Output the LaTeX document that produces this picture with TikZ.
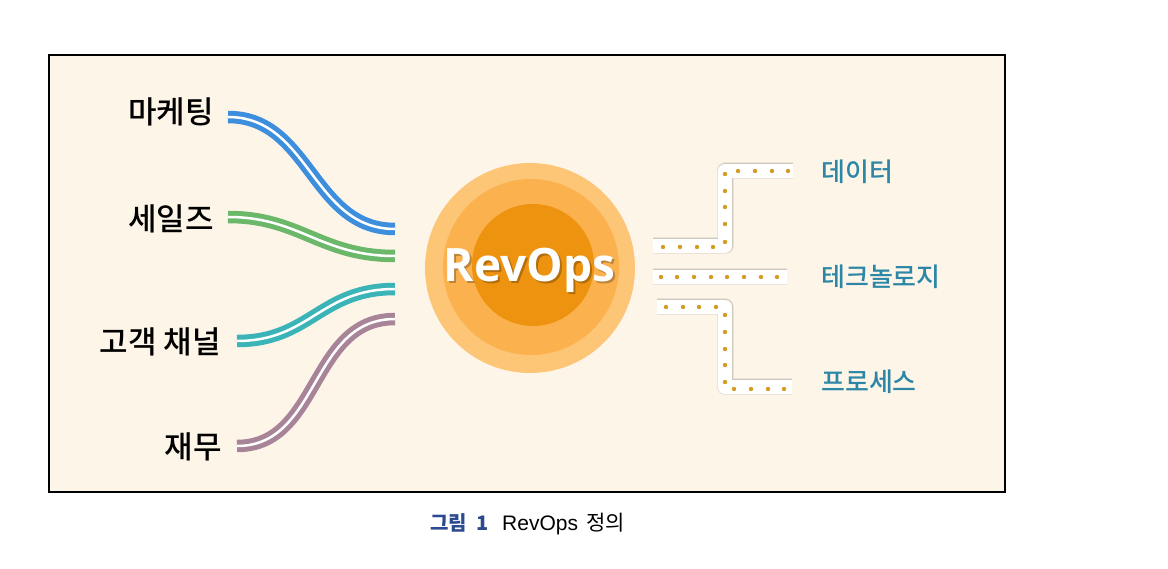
\documentclass[tikz,border=0pt]{standalone}
\usepackage{fontspec}
\setmainfont{Liberation Sans}
\newfontfamily\kr{Noto Sans CJK KR}
\newfontfamily\krm{Noto Sans CJK KR Medium}
\newfontfamily\revfont{Open Sans}
\definecolor{bg}{HTML}{FDF5E8}
\definecolor{c1}{HTML}{FDC576}
\definecolor{c2}{HTML}{FBB24E}
\definecolor{c3}{HTML}{EE930F}
\definecolor{lblue}{HTML}{3E8EDE}
\definecolor{lgreen}{HTML}{6CB86A}
\definecolor{lteal}{HTML}{3BB4B8}
\definecolor{lmauve}{HTML}{A88498}
\definecolor{rtext}{HTML}{2C86A6}
\definecolor{gold}{HTML}{D49C22}
\definecolor{capblue}{HTML}{2B4A8F}
\tikzset{
  llabel/.style={font=\krm\fontsize{31}{34}\selectfont, anchor=east, inner sep=0},
  rlabel/.style={font=\krm\fontsize{26}{30}\selectfont, text=rtext, anchor=west, inner sep=0},
  wire/.style={line width=5pt, double=white, double distance=2.5pt},
  barglow/.style={line width=17pt, black, opacity=0.07, line join=round},
  barshadow/.style={line width=15pt, black, opacity=0.12, line join=round},
  bar/.style={line width=14pt, white, line join=round},
  dot/.style={circle, fill=gold, inner sep=0, minimum size=4.4pt}
}
\begin{document}
\begin{tikzpicture}[x=1pt,y=-1pt]
\useasboundingbox (0,0) rectangle (1168,569);
\fill[white] (0,0) rectangle (1168,569);
\draw[line width=2pt, fill=bg] (49,55) rectangle (1005,492);

% circles
\node[circle, fill=c1, minimum size=210pt, inner sep=0] (outer) at (530,268) {};
\node[circle, fill=c2, minimum size=176pt, inner sep=0] (mid) at (531,267) {};
\node[circle, fill=c3, minimum size=122pt, inner sep=0] (inner) at (533,265) {};
\node[font=\revfont\bfseries\fontsize{46}{50}\selectfont, text=black, opacity=0.25] at (531.5,272.5) {RevOps};
\node[font=\revfont\bfseries\fontsize{46}{50}\selectfont, text=white] (rev) at (529.5,270.5) {RevOps};

% left labels
\node[llabel] (mkt) at (214,112) {마케팅};
\node[llabel] (sales) at (214,219) {세일즈};
\node[llabel] (chan) at (221,342) {고객 채널};
\node[llabel] (fin) at (222,447) {재무};

\coordinate (m0) at (228,117);  \coordinate (m1) at (395,229);
\coordinate (s0) at (228,217);  \coordinate (s1) at (395,256);
\coordinate (t0) at (237,341);  \coordinate (t1) at (395,289);
\coordinate (p0) at (237,446);  \coordinate (p1) at (395,319);

\draw[wire, lblue] (m0) .. controls (310,117) and (312,229) .. (m1);
\draw[wire, lgreen] (s0) .. controls (300,217) and (320,256) .. (s1);
\draw[wire, lteal] (t0) .. controls (310,341) and (320,289) .. (t1);
\draw[wire, lmauve] (p0) .. controls (320,446) and (310,319) .. (p1);

% right bars
\coordinate (d0) at (653,246); \coordinate (d1) at (725,246);
\coordinate (d2) at (725,171); \coordinate (d3) at (793,171);
\coordinate (k0) at (653,277); \coordinate (k1) at (787,277);
\coordinate (q0) at (657,307); \coordinate (q1) at (725,307);
\coordinate (q2) at (725,387); \coordinate (q3) at (792,387);

\draw[barglow] (d0) -- (d1) -- (d2) -- (d3);
\draw[barglow] (k0) -- (k1);
\draw[barglow] (q0) -- (q1) -- (q2) -- (q3);
\begin{scope}[shift={(1,2)}]
\draw[barshadow] (d0) -- (d1) -- (d2) -- (d3);
\draw[barshadow] (k0) -- (k1);
\draw[barshadow] (q0) -- (q1) -- (q2) -- (q3);
\end{scope}
\draw[bar] (d0) -- (d1) -- (d2) -- (d3);
\draw[bar] (k0) -- (k1);
\draw[bar] (q0) -- (q1) -- (q2) -- (q3);

\foreach \x in {663,680,697,713} \node[dot] at (\x,247) {};
\foreach \y in {242,224,207,191,174} \node[dot] at (725,\y) {};
\foreach \x in {738,755,772,788} \node[dot] at (\x,171) {};
\foreach \x in {661,677,694,711,727,744,761,777} \node[dot] at (\x,277) {};
\foreach \x in {666,683,699,716} \node[dot] at (\x,307) {};
\foreach \y in {315,332,349,365,382} \node[dot] at (725,\y) {};
\foreach \x in {734,751,768,784} \node[dot] at (\x,389) {};

\node[rlabel] (data) at (821,172) {데이터};
\node[rlabel] (tech) at (821,277) {테크놀로지};
\node[rlabel] (proc) at (821,382) {프로세스};

% caption
\node[font=\kr\fontsize{20}{24}\selectfont, anchor=west, inner sep=0] (cap) at (430,524)
  {{\color{capblue}\bfseries 그림\hspace{9pt}1}\hspace{14pt}{\fontspec{Liberation Sans}\fontsize{21}{24}\selectfont RevOps}\hspace{8pt}{\fontsize{21}{24}\selectfont 정의}};
\end{tikzpicture}
\end{document}
